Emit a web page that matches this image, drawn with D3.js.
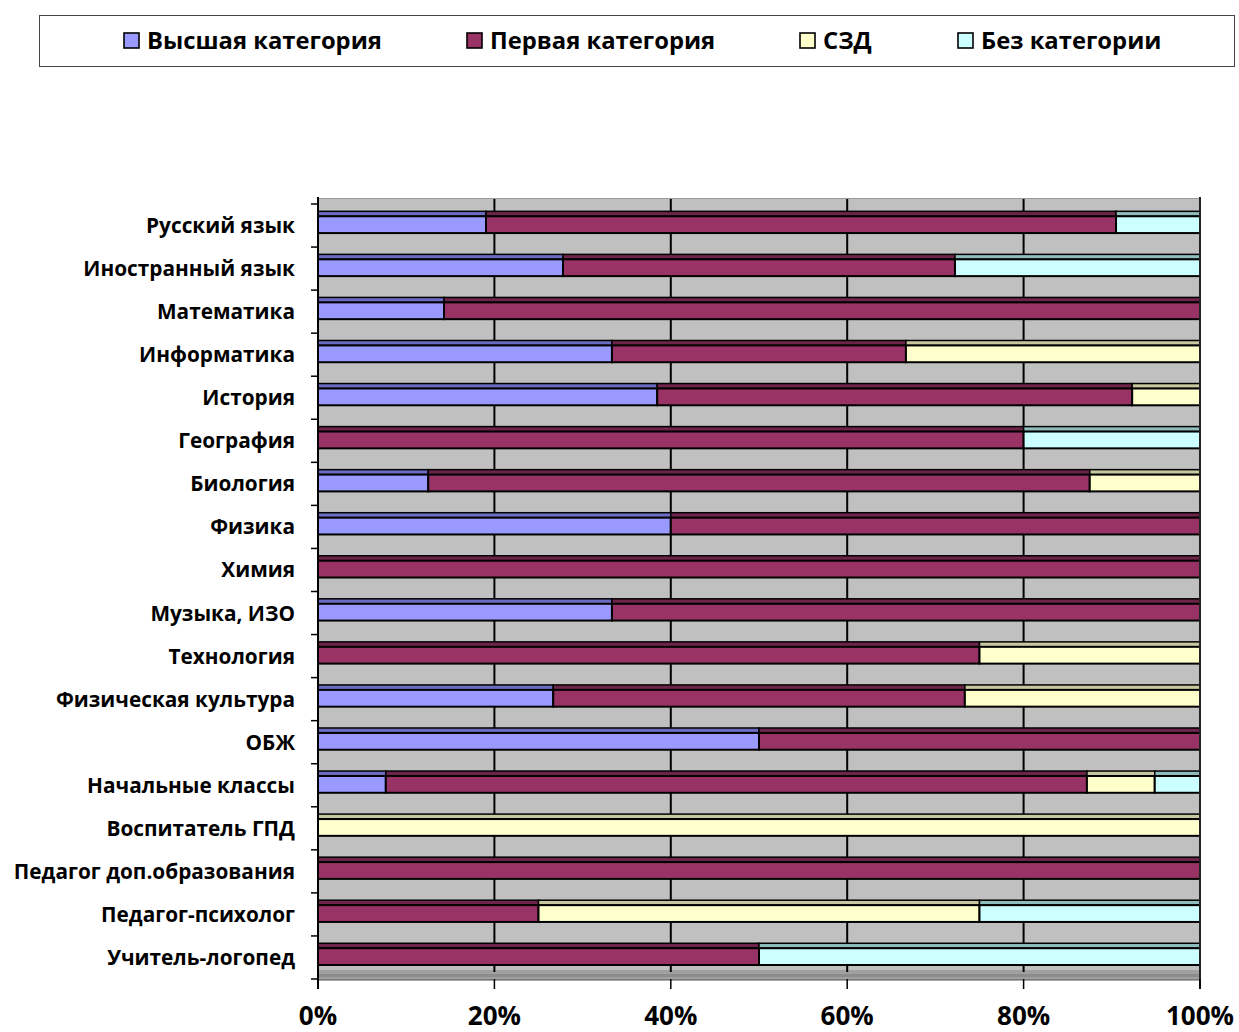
<!DOCTYPE html>
<html><head><meta charset="utf-8">
<script src="https://cdn.jsdelivr.net/npm/d3@7"></script>
<style>body{margin:0;background:#fff;}svg{display:block;}</style>
</head><body>
<script>
const categories = ["Русский язык","Иностранный язык","Математика","Информатика","История","География","Биология","Физика","Химия","Музыка, ИЗО","Технология","Физическая культура","ОБЖ","Начальные классы","Воспитатель ГПД","Педагог доп.образования","Педагог-психолог","Учитель-логопед"];
const seriesNames = ["Высшая категория","Первая категория","СЗД","Без категории"];
const vysshaya = [19.05,27.78,14.29,33.33,38.46,0,12.5,40,0,33.33,0,26.67,50,7.69,0,0,0,0];
const pervaya  = [71.43,44.44,85.71,33.33,53.85,80,75,60,100,66.67,75,46.67,50,79.49,0,100,25,50];
const szd      = [0,0,0,33.34,7.69,0,12.5,0,0,0,25,26.66,0,7.69,100,0,50,0];
const bez      = [9.52,27.78,0,0,0,20,0,0,0,0,0,0,0,5.13,0,0,25,50];
const xTicks = [0,20,40,60,80,100];

const frontColors = ["#9999ff","#993366","#ffffcc","#ccffff"];
const topColors   = ["#6b6bc2","#6e2449","#c8c8a0","#8fbcbc"];
const font = "'Open Sans', Lato, sans-serif";

const W=1239,H=1032;
const svg=d3.select("body").append("svg").attr("width",W).attr("height",H);

svg.append("rect").attr("x",39.5).attr("y",15.5).attr("width",1195).attr("height",51)
  .attr("fill","#fff").attr("stroke","#444").attr("stroke-width",1);
const legX=[124,467,800,958];
seriesNames.forEach((n,i)=>{
  svg.append("rect").attr("x",legX[i]).attr("y",33).attr("width",15).attr("height",15)
    .attr("fill",frontColors[i]).attr("stroke","#000").attr("stroke-width",1.6);
  svg.append("text").attr("x",legX[i]+23).attr("y",49).text(n)
    .attr("font-family",font).attr("font-weight","bold").attr("font-size",23.8).attr("fill","#000");
});

const x=d3.scaleLinear().domain([0,100]).range([318,1200]);
const y=d3.scaleBand().domain(categories).range([204,979]).padding(0);
const bw=y.bandwidth();

svg.append("rect").attr("x",318).attr("y",198).attr("width",882).attr("height",772).attr("fill","#c0c0c0");
svg.append("rect").attr("x",318).attr("y",970).attr("width",882).attr("height",10).attr("fill","#a0a0a0");
svg.append("rect").attr("x",318).attr("y",974).attr("width",882).attr("height",3).attr("fill","#8c8c8c");
svg.append("line").attr("x1",318).attr("x2",1200).attr("y1",980).attr("y2",980).attr("stroke","#555").attr("stroke-width",1);

xTicks.slice(1,5).forEach(t=>{
  svg.append("line").attr("x1",x(t)).attr("x2",x(t)).attr("y1",198).attr("y2",972)
    .attr("stroke","#000").attr("stroke-width",2);
});
svg.append("line").attr("x1",318).attr("x2",1200).attr("y1",198.5).attr("y2",198.5).attr("stroke","#999").attr("stroke-width",1);

const stacks = categories.map((c,i)=>{
  const vals=[vysshaya[i],pervaya[i],szd[i],bez[i]];
  let acc=0; return vals.map((v,j)=>{const s={c,j,x0:acc,x1:acc+v}; acc+=v; return s;}).filter(s=>s.x1-s.x0>0.001);
});

const gBars=svg.append("g");
stacks.forEach(row=>{
  row.forEach(s=>{
    const yt=y(s.c)+bw*0.17, yf=y(s.c)+bw*0.285, yb=y(s.c)+bw*0.675;
    gBars.append("rect").attr("x",x(s.x0)).attr("y",yt).attr("width",x(s.x1)-x(s.x0)).attr("height",yf-yt)
      .attr("fill",topColors[s.j]).attr("stroke","#000").attr("stroke-width",1.5);
    gBars.append("rect").attr("x",x(s.x0)).attr("y",yf).attr("width",x(s.x1)-x(s.x0)).attr("height",yb-yf)
      .attr("fill",frontColors[s.j]).attr("stroke","#000").attr("stroke-width",2);
  });
});

svg.append("line").attr("x1",1200).attr("x2",1200).attr("y1",197).attr("y2",989).attr("stroke","#222").attr("stroke-width",2);
svg.append("line").attr("x1",318).attr("x2",318).attr("y1",197).attr("y2",989).attr("stroke","#000").attr("stroke-width",2);
d3.range(categories.length+1).forEach(k=>{
  const yy=204+k*bw;
  svg.append("line").attr("x1",311).attr("x2",318).attr("y1",yy).attr("y2",yy).attr("stroke","#000").attr("stroke-width",1.5);
});
xTicks.forEach(t=>{
  svg.append("line").attr("x1",x(t)).attr("x2",x(t)).attr("y1",979).attr("y2",989).attr("stroke","#000").attr("stroke-width",1.5);
  svg.append("text").attr("x",x(t)).attr("y",1025).attr("text-anchor","middle").text(t+"%")
    .attr("font-family",font).attr("font-weight","bold").attr("font-size",26).attr("fill","#000");
});
categories.forEach(c=>{
  svg.append("text").attr("x",295).attr("y",y(c)+bw*0.5+7.5).attr("text-anchor","end").text(c)
    .attr("font-family",font).attr("font-weight","bold").attr("font-size",20.8).attr("fill","#000");
});
</script>
</body></html>
